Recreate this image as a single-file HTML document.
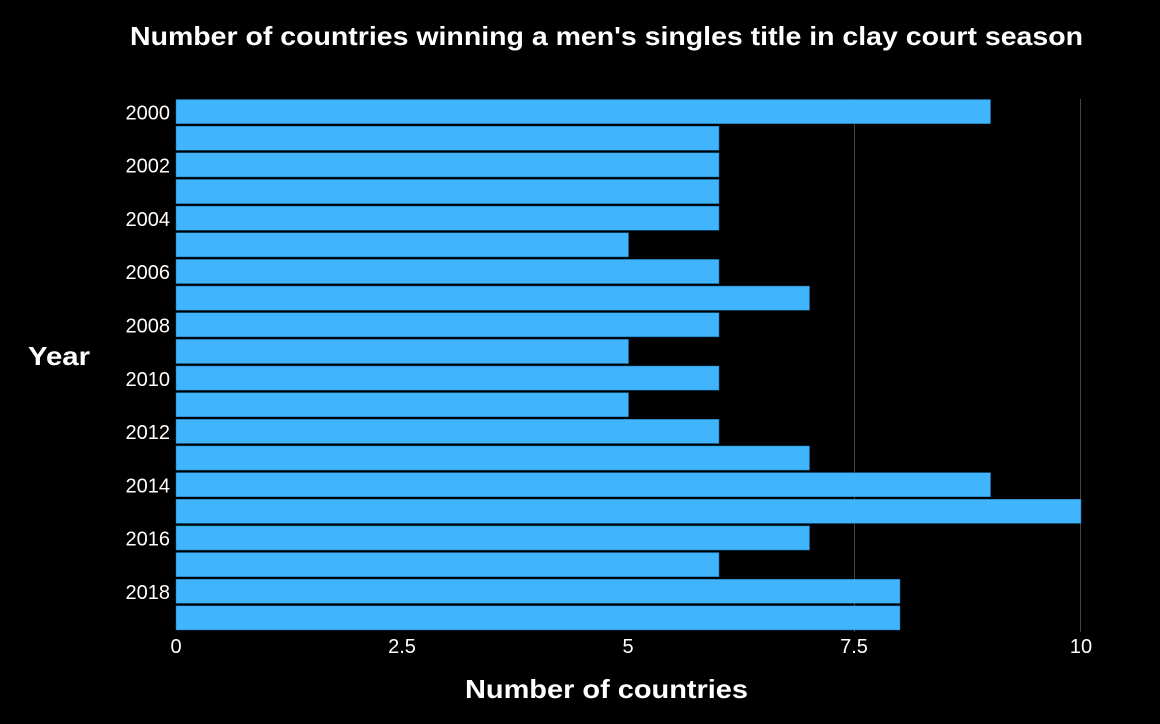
<!DOCTYPE html>
<html><head><meta charset="utf-8"><style>
html,body{margin:0;padding:0;background:#000;}
svg{display:block;}
</style></head><body>
<svg width="1160" height="724" xmlns="http://www.w3.org/2000/svg">
<rect width="1160" height="724" fill="#000"/>
<g stroke="#444" stroke-width="1">
<line x1="854.5" y1="99" x2="854.5" y2="632"/>
<line x1="1080.5" y1="99" x2="1080.5" y2="632"/>
</g>
<g fill="#40b4fc" stroke="#1a6fa8" stroke-width="0.5" id="bars"></g>
<text x="130" y="45" fill="#fff" font-family="Liberation Sans, sans-serif" font-weight="bold" font-size="26" textLength="953" lengthAdjust="spacingAndGlyphs">Number of countries winning a men's singles title in clay court season</text>
<text x="465" y="698" fill="#fff" font-family="Liberation Sans, sans-serif" font-weight="bold" font-size="26" textLength="283" lengthAdjust="spacingAndGlyphs">Number of countries</text>
<text x="28" y="365" fill="#fff" font-family="Liberation Sans, sans-serif" font-weight="bold" font-size="26" textLength="62" lengthAdjust="spacingAndGlyphs">Year</text>
<g fill="#fff" font-family="Liberation Sans, sans-serif" font-size="20" text-anchor="middle">
<text x="176" y="653">0</text><text x="402" y="653">2.5</text><text x="628" y="653">5</text><text x="854" y="653">7.5</text><text x="1081" y="653">10</text>
</g>
<g fill="#fff" font-family="Liberation Sans, sans-serif" font-size="20" text-anchor="end" id="ylab"></g>
<script>
var v=[9,6,6,6,6,5,6,7,6,5,6,5,6,7,9,10,7,6,8,8];
var g=document.getElementById('bars'),yl=document.getElementById('ylab');
var s=(632-99)/20;
for(var i=0;i<20;i++){
 var y=99+i*s;
 var r=document.createElementNS('http://www.w3.org/2000/svg','rect');
 r.setAttribute('x',176);r.setAttribute('y',y+0.5);r.setAttribute('width',v[i]*90.5);r.setAttribute('height',s-2.5);
 g.appendChild(r);
 if(i%2==0){var t=document.createElementNS('http://www.w3.org/2000/svg','text');
 t.setAttribute('x',170);t.setAttribute('y',y+s/2+7);t.textContent=2000+i;yl.appendChild(t);}
}
</script>
</svg>
</body></html>
